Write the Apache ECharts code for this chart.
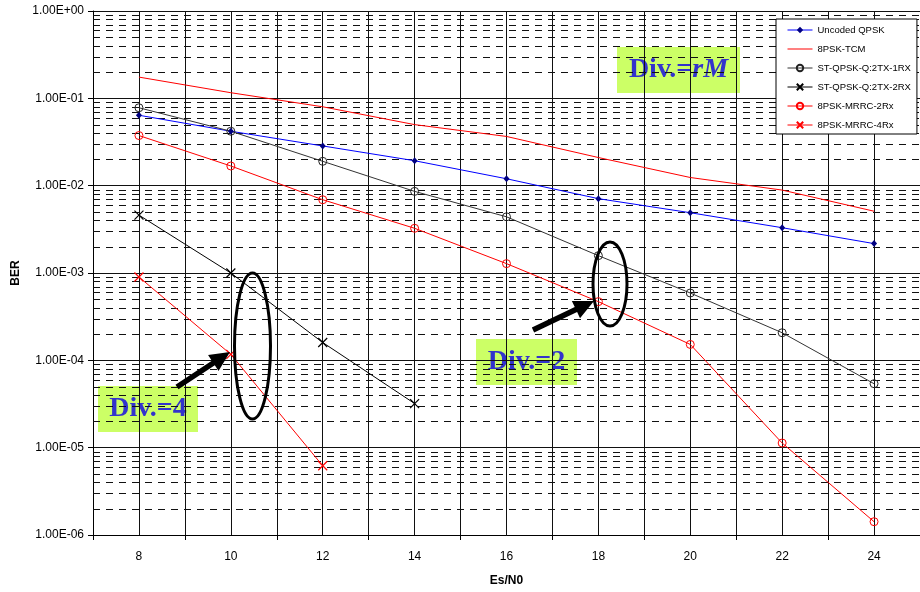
<!DOCTYPE html>
<html>
<head>
<meta charset="utf-8">
<script src="https://cdn.jsdelivr.net/npm/echarts@6/dist/echarts.min.js"></script>
<style>
  html, body { margin: 0; padding: 0; background: #fff; }
  #chart { width: 920px; height: 592px; }
</style>
</head>
<body>
<div id="chart"></div>
<script>
// Es/N0 points (dB)
var esn0 = [8, 10, 12, 14, 16, 18, 20, 22, 24];

// BER curves
var uncodedQpsk   = [6.4e-2, 4.2e-2, 2.85e-2, 1.93e-2, 1.2e-2, 7.1e-3, 4.9e-3, 3.3e-3, 2.17e-3];
var tcm8psk       = [0.175, 0.116, 0.080, 0.050, 0.0366, 0.021, 0.0124, 0.0089, 0.0051];
var stQpsk2tx1rx  = [0.078, 0.042, 0.019, 0.0086, 0.0044, 1.58e-3, 5.9e-4, 2.07e-4, 5.4e-5];
var stQpsk2tx2rx  = [4.6e-3, 1.0e-3, 1.6e-4, 3.2e-5];
var mrrc2rx       = [0.0375, 0.0168, 6.9e-3, 3.25e-3, 1.28e-3, 4.7e-4, 1.52e-4, 1.13e-5, 1.42e-6];
var mrrc4rx       = [9.0e-4, 1.17e-4, 6.2e-6];

var yMin = 1e-6, yMax = 1;
var xMin = 7, xMax = 25;

function pairs(values) {
  return values.map(function (v, i) { return [esn0[i], v]; });
}

function sciLabel(v) {
  var e = Math.round(Math.log10(v));
  return '1.00E' + (e < 0 ? '-' : '+') + String(Math.abs(e)).padStart(2, '0');
}

// dashed minor grid lines at 2..9 of every decade
var minorLevels = [];
for (var d = -6; d < 0; d++) {
  for (var m = 2; m <= 9; m++) {
    minorLevels.push([xMin, m * Math.pow(10, d)]);
  }
}

var crossPath = 'path://M0,0L10,10M10,0L0,10';
var lineIcon = 'path://M0,0L25,0L25,1L0,1Z';

function arrowPoints(x1, y1, x2, y2, shaft, headLen, headW) {
  var dx = x2 - x1, dy = y2 - y1, L = Math.sqrt(dx * dx + dy * dy);
  var ux = dx / L, uy = dy / L, nx = -uy, ny = ux;
  var bx = x2 - ux * headLen, by = y2 - uy * headLen;
  return [
    [x1 + nx * shaft / 2, y1 + ny * shaft / 2],
    [bx + nx * shaft / 2, by + ny * shaft / 2],
    [bx + nx * headW / 2, by + ny * headW / 2],
    [x2, y2],
    [bx - nx * headW / 2, by - ny * headW / 2],
    [bx - nx * shaft / 2, by - ny * shaft / 2],
    [x1 - nx * shaft / 2, y1 - ny * shaft / 2]
  ];
}

function labelBox(x, y, w, h, rich) {
  return {
    type: 'group', x: x, y: y, silent: true, z: 50,
    children: [
      { type: 'rect', shape: { x: 0, y: 0, width: w, height: h }, style: { fill: '#ccff66' } },
      {
        type: 'text', x: w / 2, y: h / 2,
        style: {
          text: rich.text, rich: rich.styles,
          align: 'center', verticalAlign: 'middle'
        }
      }
    ]
  };
}

var divFont = { fontFamily: '"Liberation Serif", "Times New Roman", serif', fontWeight: 'bold', fontSize: 28, fill: '#3333cc' };
var divItalic = Object.assign({}, divFont, { fontStyle: 'italic' });

var chart = echarts.init(document.getElementById('chart'), null, { renderer: 'canvas' });

chart.setOption({
  animation: false,
  backgroundColor: '#fff',
  textStyle: { fontFamily: '"Liberation Sans", Arial, sans-serif' },
  grid: { left: 93, top: 11, width: 832.5, height: 525, containLabel: false },
  legend: {
    orient: 'vertical',
    left: 776, top: 19,
    padding: [5, 6, 3, 11],
    itemWidth: 25, itemHeight: 8, itemGap: 7,
    backgroundColor: '#fff',
    borderColor: '#000', borderWidth: 1,
    lineStyle: { width: 1 },
    textStyle: { fontSize: 9.5, lineHeight: 12, color: '#000', fontFamily: '"Liberation Sans", Arial, sans-serif' },
    selectedMode: false,
    data: [
      'Uncoded QPSK',
      { name: '8PSK-TCM', icon: lineIcon },
      'ST-QPSK-Q:2TX-1RX',
      'ST-QPSK-Q:2TX-2RX',
      '8PSK-MRRC-2Rx',
      '8PSK-MRRC-4Rx'
    ]
  },
  xAxis: [
    {
      type: 'category',
      data: esn0.map(String),
      boundaryGap: true,
      name: 'Es/N0',
      nameLocation: 'middle',
      nameGap: 40,
      nameTextStyle: { fontWeight: 'bold', fontSize: 12, color: '#000' },
      axisLine: { lineStyle: { color: '#000', width: 1 } },
      axisTick: { show: true, length: 5, lineStyle: { color: '#000' } },
      axisLabel: { fontSize: 12, color: '#000', margin: 16 },
      splitLine: { show: false }
    },
    {
      type: 'value',
      min: xMin, max: xMax, interval: 1,
      position: 'bottom',
      axisLine: { show: false },
      axisTick: { show: false },
      axisLabel: { show: false },
      splitLine: { show: true, lineStyle: { color: '#111', width: 1 } }
    }
  ],
  yAxis: {
    type: 'log',
    logBase: 10,
    min: yMin, max: yMax,
    name: 'BER',
    nameLocation: 'middle',
    nameGap: 71,
    nameTextStyle: { fontWeight: 'bold', fontSize: 12, color: '#000' },
    axisLine: { show: true, lineStyle: { color: '#000', width: 1 } },
    axisTick: { show: true, length: 5, lineStyle: { color: '#000' } },
    axisLabel: { fontSize: 12, color: '#000', margin: 9, formatter: sciLabel },
    splitLine: { show: true, lineStyle: { color: '#111', width: 1 } }
  },
  series: [
    {
      name: 'minor-grid',
      type: 'custom', xAxisIndex: 1,
      silent: true, z: 1,
      data: minorLevels,
      renderItem: function (params, api) {
        var v = api.value(1);
        var p1 = api.coord([xMin, v]);
        var p2 = api.coord([xMax, v]);
        var y = Math.round(p1[1]) + 0.5;
        return {
          type: 'line',
          shape: { x1: p1[0], y1: y, x2: p2[0], y2: y },
          style: { stroke: '#111', lineWidth: 1, lineDash: [7, 6] }
        };
      }
    },
    {
      name: 'Uncoded QPSK',
      type: 'line', xAxisIndex: 1,
      data: pairs(uncodedQpsk),
      symbol: 'diamond', symbolSize: [6, 7],
      lineStyle: { color: '#0000ff', width: 1 },
      itemStyle: { color: '#000080' },
      emphasis: { disabled: true }
    },
    {
      name: '8PSK-TCM',
      type: 'line', xAxisIndex: 1,
      data: pairs(tcm8psk),
      symbol: 'none', showSymbol: false,
      lineStyle: { color: '#ff0000', width: 1 },
      itemStyle: { color: '#ff0000' },
      emphasis: { disabled: true }
    },
    {
      name: 'ST-QPSK-Q:2TX-1RX',
      type: 'line', xAxisIndex: 1,
      data: pairs(stQpsk2tx1rx),
      symbol: 'circle', symbolSize: 8,
      lineStyle: { color: '#333', width: 1 },
      itemStyle: { color: 'rgba(0,0,0,0)', borderColor: '#222', borderWidth: 1 },
      emphasis: { disabled: true }
    },
    {
      name: 'ST-QPSK-Q:2TX-2RX',
      type: 'line', xAxisIndex: 1,
      data: pairs(stQpsk2tx2rx),
      symbol: crossPath, symbolSize: 9,
      lineStyle: { color: '#000', width: 1 },
      itemStyle: { color: 'rgba(0,0,0,0)', borderColor: '#000', borderWidth: 1.2 },
      emphasis: { disabled: true }
    },
    {
      name: '8PSK-MRRC-2Rx',
      type: 'line', xAxisIndex: 1,
      data: pairs(mrrc2rx),
      symbol: 'circle', symbolSize: 8,
      lineStyle: { color: '#ff0000', width: 1 },
      itemStyle: { color: 'rgba(0,0,0,0)', borderColor: '#ff0000', borderWidth: 1 },
      emphasis: { disabled: true }
    },
    {
      name: '8PSK-MRRC-4Rx',
      type: 'line', xAxisIndex: 1,
      data: pairs(mrrc4rx),
      symbol: crossPath, symbolSize: 9,
      lineStyle: { color: '#ff0000', width: 1 },
      itemStyle: { color: 'rgba(0,0,0,0)', borderColor: '#ff0000', borderWidth: 1.2 },
      emphasis: { disabled: true }
    }
  ],
  graphic: [
    // diversity-order callouts
    labelBox(617, 47, 123, 46, { text: '{a|Div.=}{b|rM}', styles: { a: divFont, b: divItalic } }),
    labelBox(98, 386, 100, 46, { text: '{a|Div.=4}', styles: { a: divFont } }),
    labelBox(476, 339, 101, 46, { text: '{a|Div.=2}', styles: { a: divFont } }),
    {
      type: 'ellipse', silent: true, z: 50,
      shape: { cx: 252.5, cy: 346, rx: 18, ry: 73 },
      style: { fill: null, stroke: '#000', lineWidth: 3 }
    },
    {
      type: 'ellipse', silent: true, z: 50,
      shape: { cx: 610, cy: 284, rx: 17, ry: 42 },
      style: { fill: null, stroke: '#000', lineWidth: 3 }
    },
    {
      type: 'polygon', silent: true, z: 50,
      shape: { points: arrowPoints(177, 387, 230, 352, 5.5, 20, 19) },
      style: { fill: '#000' }
    },
    {
      type: 'polygon', silent: true, z: 50,
      shape: { points: arrowPoints(533, 330, 594, 301, 5.5, 20, 19) },
      style: { fill: '#000' }
    }
  ]
});
</script>
</body>
</html>
